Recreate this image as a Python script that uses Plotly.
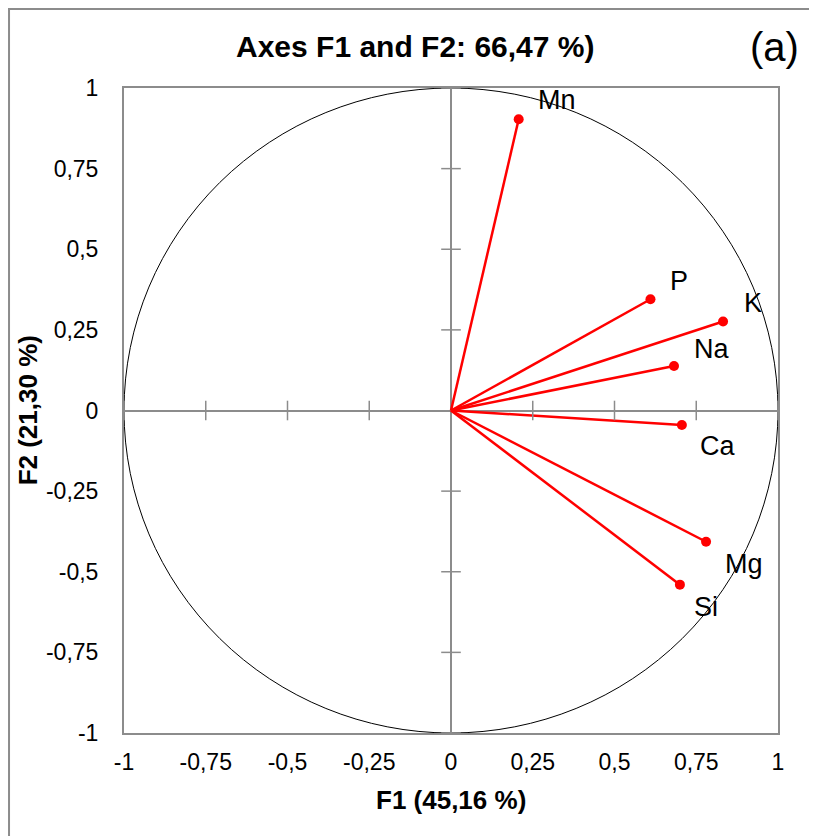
import plotly.graph_objects as go

# ---- data ----
variables = ["Mn", "P", "K", "Na", "Ca", "Mg", "Si"]
f1 = [0.207, 0.610, 0.832, 0.682, 0.706, 0.780, 0.700]
f2 = [0.903, 0.345, 0.276, 0.138, -0.045, -0.407, -0.540]

tick_vals = [-1, -0.75, -0.5, -0.25, 0, 0.25, 0.5, 0.75, 1]
tick_text = ["-1", "-0,75", "-0,5", "-0,25", "0", "0,25", "0,5", "0,75", "1"]
inner_ticks = [v for v in tick_vals if v != 0]

title_text = "Axes F1 and F2: 66,47 %)"
x_title = "F1 (45,16 %)"
y_title = "F2 (21,30 %)"
panel_tag = "(a)"

# ---- styles ----
label_shift = {
    "Mn": (38, 19), "P": (29, 18), "K": (30, 18), "Na": (37, 17),
    "Ca": (36, -21), "Mg": (38, -22), "Si": (26, -22),
}
FONT = "Liberation Sans, Arial, sans-serif"
GRAY = "#8c8c8c"
RED = "#ff0000"

fig = go.Figure()

# vectors from origin
lx, ly = [], []
for x, y in zip(f1, f2):
    lx += [0, x, None]
    ly += [0, y, None]
fig.add_trace(go.Scatter(x=lx, y=ly, mode="lines",
                         line=dict(color=RED, width=2.5),
                         hoverinfo="skip", showlegend=False))
fig.add_trace(go.Scatter(x=f1, y=f2, mode="markers",
                         marker=dict(color=RED, size=10),
                         text=variables, showlegend=False))

# tick marks crossing the zero lines
fig.add_trace(go.Scatter(x=inner_ticks, y=[0] * len(inner_ticks), mode="markers",
                         marker=dict(symbol="line-ns", size=14,
                                     line=dict(color=GRAY, width=1.5)),
                         hoverinfo="skip", showlegend=False))
fig.add_trace(go.Scatter(x=[0] * len(inner_ticks), y=inner_ticks, mode="markers",
                         marker=dict(symbol="line-ew", size=14,
                                     line=dict(color=GRAY, width=1.5)),
                         hoverinfo="skip", showlegend=False))

# unit circle
fig.add_shape(type="circle", xref="x", yref="y", x0=-1, y0=-1, x1=1, y1=1,
              line=dict(color="black", width=1), layer="below")

# outer chart border
fig.add_shape(type="rect", xref="paper", yref="paper",
              x0=-0.1758, y0=-0.17, x1=1.058, y1=1.1225,
              line=dict(color=GRAY, width=2))

annotations = []
for name, x, y in zip(variables, f1, f2):
    dx, dy = label_shift[name]
    annotations.append(dict(x=x, y=y, xref="x", yref="y", text=name,
                            showarrow=False, xshift=dx, yshift=dy,
                            font=dict(family=FONT, size=27, color="black")))
annotations += [
    dict(x=0.445, y=1.0636, xref="paper", yref="paper", text="<b>" + title_text + "</b>",
         showarrow=False, xanchor="center", yanchor="middle",
         font=dict(family=FONT, size=30, color="black")),
    dict(x=0.9954, y=1.0636, xref="paper", yref="paper", text=panel_tag,
         showarrow=False, xanchor="center", yanchor="middle",
         font=dict(family=FONT, size=40, color="black")),
    dict(x=0.5, y=-0.104, xref="paper", yref="paper", text="<b>" + x_title + "</b>",
         showarrow=False, xanchor="center", yanchor="middle",
         font=dict(family=FONT, size=26, color="black")),
    dict(x=-0.147, y=0.5, xref="paper", yref="paper", text="<b>" + y_title + "</b>",
         showarrow=False, xanchor="center", yanchor="middle", textangle=-90,
         font=dict(family=FONT, size=26, color="black")),
]

axis_common = dict(
    range=[-1, 1], tickvals=tick_vals, ticktext=tick_text,
    showgrid=False, zeroline=True, zerolinecolor=GRAY, zerolinewidth=1.5,
    showline=True, mirror=True, linecolor=GRAY, linewidth=2,
    ticks="outside", tickcolor="rgba(0,0,0,0)",
    tickfont=dict(family=FONT, size=23, color="black"),
    fixedrange=True,
)

fig.update_layout(
    width=817, height=836,
    margin=dict(l=116, r=47, t=80, b=111),
    paper_bgcolor="white", plot_bgcolor="white",
    xaxis=dict(axis_common, ticklen=7),
    yaxis=dict(axis_common, ticklen=19),
    annotations=annotations,
    showlegend=False,
)

fig.write_html("out.html")
